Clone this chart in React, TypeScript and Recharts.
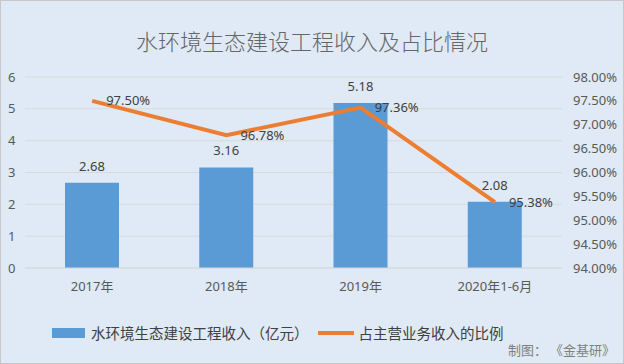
import { Bar, CartesianGrid, ComposedChart, LabelList, Line, XAxis, YAxis } from "recharts"

const years = ["2017年", "2018年", "2019年", "2020年1-6月"]
const revenue = [2.68, 3.16, 5.18, 2.08]
const share = [97.5, 96.78, 97.36, 95.38]
const leftTicks = [0, 1, 2, 3, 4, 5, 6]
const rightTicks = [94, 94.5, 95, 95.5, 96, 96.5, 97, 97.5, 98]

const data = years.map((year, i) => ({ year, revenue: revenue[i], share: share[i] }))

const font = "'Noto Sans', 'Noto Sans CJK SC', sans-serif"
const textColor = "#595959"

export default function App() {
    return (
        <div style={{ position: "absolute", left: 0, top: 0, width: 624, height: 364, background: "#dfeaf6", fontFamily: font }}>
            <div style={{ position: "absolute", top: 24, width: 624, textAlign: "center", fontSize: 22, color: "#666", fontWeight: 300, fontFamily: "'Noto Sans CJK SC', sans-serif" }}>
                水环境生态建设工程收入及占比情况
            </div>
            <ComposedChart width={624} height={364} data={data} margin={{ top: 77, right: 0, left: 0, bottom: 66 }}>
                <CartesianGrid yAxisId="left" vertical={false} stroke="#d9d9d9" />
                <XAxis dataKey="year" tickLine={false} axisLine={{ stroke: "#d9d9d9" }} height={30} tick={{ fontSize: 13, fill: textColor }} tickMargin={8} />
                <YAxis yAxisId="left" domain={[0, 6]} ticks={leftTicks} width={25} tickLine={false} axisLine={false} tick={{ fontSize: 13, fill: textColor, textAnchor: "start" }} dx={-9} />
                <YAxis yAxisId="right" orientation="right" domain={[94, 98]} ticks={rightTicks} width={62} tickLine={false} axisLine={false} tick={{ fontSize: 13, fill: textColor }} dx={3} tickFormatter={(v: number) => `${v.toFixed(2)}%`} />
                <Bar yAxisId="left" dataKey="revenue" fill="#5b9bd5" barSize={54} isAnimationActive={false}>
                    <LabelList dataKey="revenue" position="top" offset={12} style={{ fontSize: 13, fill: "#404040" }} formatter={(v: number) => v.toFixed(2)} />
                </Bar>
                <Line yAxisId="right" dataKey="share" stroke="#ed7d31" strokeWidth={4} dot={false} isAnimationActive={false}>
                    <LabelList dataKey="share" position="right" offset={14} style={{ fontSize: 13, fill: "#404040" }} formatter={(v: number) => `${v.toFixed(2)}%`} />
                </Line>
            </ComposedChart>
            <div style={{ position: "absolute", top: 322, left: 52, display: "flex", alignItems: "center", fontSize: 14.5, color: "#404040", fontFamily: "'Noto Sans CJK SC', sans-serif" }}>
                <span style={{ width: 33, height: 10, background: "#5b9bd5", display: "inline-block", marginRight: 6 }} />
                <span>水环境生态建设工程收入（亿元）</span>
                <span style={{ width: 36, height: 4, background: "#ed7d31", display: "inline-block", margin: "0 5px 0 9px" }} />
                <span>占主营业务收入的比例</span>
            </div>
            <div style={{ position: "absolute", top: 340, left: 508, fontSize: 13, color: "#7f7f7f", fontFamily: "'Noto Sans CJK SC', sans-serif", whiteSpace: "pre" }}>
                制图： 《金基研》
            </div>
            <div style={{ position: "absolute", inset: 0, border: "1px solid #c8c8c8", pointerEvents: "none" }} />
        </div>
    )
}
